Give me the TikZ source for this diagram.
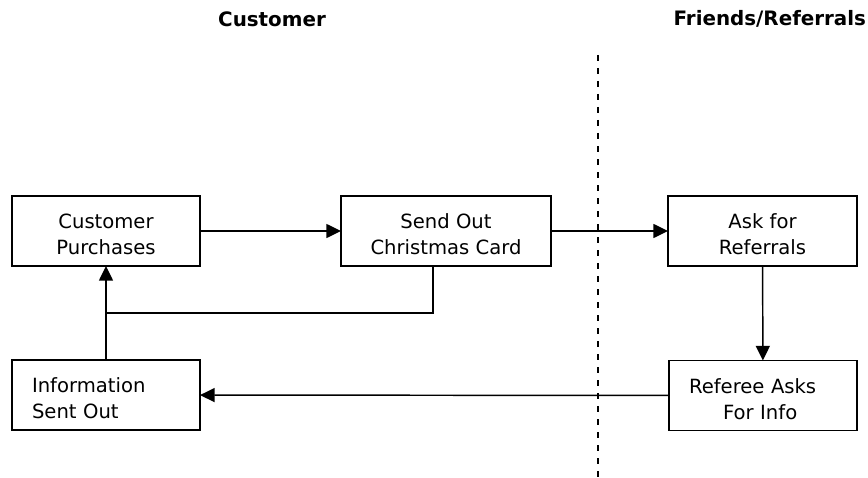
\documentclass[tikz,border=0pt]{standalone}
\usepackage{fontspec}
\setmainfont{DejaVu Sans}
\usetikzlibrary{arrows.meta}
\newcommand{\lowerfirst}{\rule{0pt}{16.3pt}}
\begin{document}
\begin{tikzpicture}[x=0.75pt,y=-0.75pt,
  every node/.style={inner sep=0pt, outer sep=0pt},
  boxtext/.style={font=\fontsize{14.7pt}{19.7pt}\selectfont},
  box/.style={draw, line width=1.1pt, minimum height=52.5pt, boxtext},
  cbox/.style={box, align=center},
  lbox/.style={box, align=left, text width=111pt, inner xsep=15pt},
  title/.style={font=\bfseries\fontsize{14.9pt}{17pt}\selectfont},
  link/.style={line width=1.1pt, -{Triangle[length=11pt,width=10.5pt]}},
  plain/.style={line width=1.1pt},
  divider/.style={line width=1.1pt, dash pattern=on 4.5pt off 5.25pt}]
\useasboundingbox (0,0) rectangle (868,478);

\node[title] (tc) at (272,19) {Customer};
\node[title, anchor=east] (tf) at (866,19) {Friends/Referrals};

\coordinate (dtop) at (598,55);
\coordinate (dbot) at (598,478);
\draw[divider] (dtop) -- (dbot);

\node[cbox, minimum width=141pt] (cp) at (106,231) {\lowerfirst Customer\\Purchases};
\node[cbox, minimum width=157.5pt] (sc) at (446,231) {\lowerfirst Send Out\\Christmas Card};
\node[cbox, minimum width=141.75pt] (ar) at (762.5,231) {\lowerfirst Ask for\\Referrals};
\node[lbox] (ra) at (763,395.5) {\lowerfirst Referee Asks\\\hspace*{25.5pt}For Info};
\node[lbox] (is) at (106,395) {\lowerfirst Information\\Sent Out};

\draw[link] (cp) -- (sc);
\draw[link] (sc) -- (ar);
\draw[link] (ar) -- (ra);
\draw[link] (ra) -- (is);
\draw[link] (is) -- (cp);
\coordinate (join) at (106,313);
\draw[plain] (sc.south -| 433,0) |- (join);
\end{tikzpicture}
\end{document}
